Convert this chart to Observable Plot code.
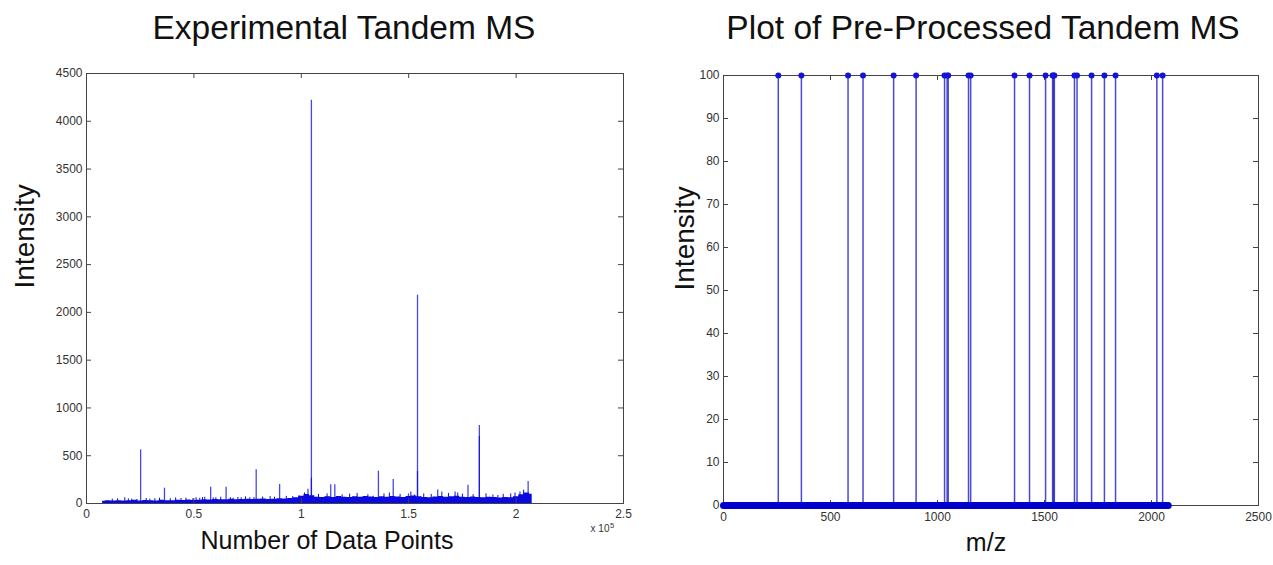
<!DOCTYPE html>
<html><head><meta charset="utf-8">
<script src="https://cdn.jsdelivr.net/npm/d3@7"></script>
<script src="https://cdn.jsdelivr.net/npm/@observablehq/plot@0.6"></script>
<style>
body{margin:0;background:#fff;width:1273px;height:565px;position:relative;overflow:hidden;font-family:"Liberation Sans",Arial,sans-serif;}
.abs{position:absolute;}
.title{position:absolute;top:10px;font-size:33.5px;line-height:36px;color:#111;white-space:nowrap;transform:translateX(-50%);}
</style></head><body>
<div class="title" style="left:344px">Experimental Tandem MS</div>
<div class="title" style="left:983px">Plot of Pre-Processed Tandem MS</div>
<div id="left" class="abs" style="left:0;top:55px"></div>
<div id="right" class="abs" style="left:640px;top:55px"></div>
<script>
// ---------- Left chart data: raw spectrum ----------
const rawXTicks = [0, 50000, 100000, 150000, 200000, 250000];
const rawYTicks = [0, 500, 1000, 1500, 2000, 2500, 3000, 3500, 4000, 4500];
// noise floor envelope, sampled every 2500 data points starting at 7500
const noiseStart = 7500, noiseStep = 2500;
const noiseLevel = [24,28,26,30,26,29,33,27,31,29,26,35,30,28,33,31,36,32,35,39,36,42,38,40,44,39,42,45,41,44,48,42,45,50,48,52,60,75,95,82,65,62,70,64,72,66,62,70,65,72,68,62,70,66,74,68,64,72,78,70,64,60,68,72,66,70,75,66,62,68,64,60,66,62,58,64,60,70,92,110,96];
// peaks (data-point index, intensity)
const peakPos = [17800,21000,25200,31800,36300,46300,49500,52700,55000,57800,60200,65000,68300,72000,76000,79000,89900,103100,104700,104700,110900,113700,115600,128100,133500,135900,142800,149900,152700,154100,154100,163500,165400,171600,172800,177600,182900,182900,189200,191500,201800,205600];
const peakInt = [59,45,561,50,160,55,50,55,65,171,60,170,55,60,60,352,199,150,4220,264,70,195,195,60,75,338,251,100,90,2180,334,140,120,120,110,190,816,701,90,85,120,229];
// small noise spikes
const minorPos = [12000,14500,19500,23500,27800,29500,34000,39000,41500,44000,51000,54000,59000,62500,67000,70500,74000,78000,82000,85500,87500,93000,96000,99000,101500,108000,112000,119000,122500,126000,131000,138500,141000,146000,151000,157000,160500,168500,175000,180000,186000,194000,197500,199500,203500];
const minorInt = [45,50,48,42,52,46,55,50,58,52,60,62,58,66,60,64,70,62,68,72,66,75,72,80,110,95,100,90,98,105,92,100,110,95,120,100,95,105,98,92,102,96,100,110,140];

// ---------- Right chart data: pre-processed ----------
const mzXTicks = [0, 500, 1000, 1500, 2000, 2500];
const mzYTicks = [0, 10, 20, 30, 40, 50, 60, 70, 80, 90, 100];
const mzPeaks = [256,364,582,652,795,900,1033,1045,1050,1145,1155,1360,1430,1505,1538,1542,1546,1640,1652,1720,1780,1832,2025,2052];
const mzIntensity = [100,100,100,100,100,100,100,100,100,100,100,100,100,100,100,100,100,100,100,100,100,100,100,100];
const mzZeroRange = [0, 2078];

const BLUE = "#0a0ae0";
const FONT = "'Liberation Sans', Arial, sans-serif";
const plain = d => String(d);

function boxTicks(xTicks, yTicks, W, H) {
  const tl = 5;
  return [
    Plot.tickY(yTicks, {y: d => d, insetRight: W - tl, stroke: "#444"}),
    Plot.tickY(yTicks, {y: d => d, insetLeft: W - tl, stroke: "#444"}),
    Plot.tickX(xTicks, {x: d => d, insetTop: H - tl, stroke: "#444"}),
    Plot.tickX(xTicks, {x: d => d, insetBottom: H - tl, stroke: "#444"})
  ];
}

// Left
{
  const width = 640, height = 510, mL = 86, mR = 17, mT = 18, mB = 62;
  const W = width - mL - mR, H = height - mT - mB;
  const noise = noiseLevel.map((v, i) => ({x: noiseStart + i * noiseStep, y: v}));
  const peaks = peakPos.map((p, i) => ({x: p, y: peakInt[i]}));
  const minor = minorPos.map((p, i) => ({x: p, y: minorInt[i]}));
  const chart = Plot.plot({
    width, height, marginLeft: mL, marginRight: mR, marginTop: mT, marginBottom: mB,
    style: {fontFamily: FONT, fontSize: "12px", color: "#333", background: "#fff"},
    x: {domain: [0, 250000], ticks: rawXTicks},
    y: {domain: [0, 4500], ticks: rawYTicks},
    marks: [
      Plot.areaY(noise, {x: "x", y: "y", curve: "step", fill: BLUE}),
      Plot.ruleX(minor, {x: "x", y1: 0, y2: "y", stroke: BLUE, strokeWidth: 1}),
      Plot.ruleX(peaks, {x: "x", y1: 0, y2: "y", stroke: BLUE, strokeWidth: 1.3, strokeOpacity: 0.75}),
      ...boxTicks(rawXTicks, rawYTicks, W, H),
      Plot.frame({stroke: "#444"}),
      Plot.axisY({ticks: rawYTicks, tickSize: 0, tickPadding: 4, label: null, tickFormat: plain, fill: "#333"}),
      Plot.axisX({ticks: rawXTicks, tickSize: 0, tickPadding: 6, label: null, tickFormat: d => String(d / 1e5), fill: "#333"}),
      Plot.text(["Intensity"], {frameAnchor: "left", rotate: -90, dx: -61, fontSize: 28, fill: "#111"}),
      Plot.text(["Number of Data Points"], {frameAnchor: "bottom", dy: 45, dx: -28, fontSize: 25, fill: "#111"}),
      Plot.text(["x 10"], {frameAnchor: "bottom-right", textAnchor: "end", dy: 28, dx: -14, fontSize: 10, fill: "#333"}),
      Plot.text(["5"], {frameAnchor: "bottom-right", textAnchor: "start", dy: 24, dx: -13.5, fontSize: 7.5, fill: "#333"})
    ]
  });
  document.getElementById("left").append(chart);
}

// Right
{
  const width = 633, height = 510, mL = 83, mR = 15, mT = 20, mB = 60;
  const W = width - mL - mR, H = height - mT - mB;
  const stems = mzPeaks.map((m, i) => ({mz: m, v: mzIntensity[i]}));
  const zero = mzZeroRange.map(m => ({mz: m, v: 0}));
  const chart = Plot.plot({
    width, height, marginLeft: mL, marginRight: mR, marginTop: mT, marginBottom: mB,
    style: {fontFamily: FONT, fontSize: "12px", color: "#333", background: "#fff"},
    x: {domain: [0, 2500], ticks: mzXTicks},
    y: {domain: [0, 100], ticks: mzYTicks},
    marks: [
      Plot.ruleX(stems, {x: "mz", y1: 0, y2: "v", stroke: "#2a2ac8", strokeWidth: 1.5, strokeOpacity: 0.85}),
      ...boxTicks(mzXTicks, mzYTicks, W, H),
      Plot.frame({stroke: "#444"}),
      Plot.dot(stems, {x: "mz", y: "v", r: 3, fill: "#1414d8", stroke: "none"}),
      Plot.line(zero, {x: "mz", y: "v", stroke: "#0000cc", strokeWidth: 7, strokeLinecap: "round"}),
      Plot.axisY({ticks: mzYTicks, tickSize: 0, tickPadding: 4, label: null, tickFormat: plain, fill: "#333"}),
      Plot.axisX({ticks: mzXTicks, tickSize: 0, tickPadding: 7, label: null, tickFormat: plain, fill: "#333"}),
      Plot.text(["Intensity"], {frameAnchor: "left", rotate: -90, dx: -38, fontSize: 28, fill: "#111"}),
      Plot.text(["m/z"], {frameAnchor: "bottom", dy: 45, dx: -5, fontSize: 25, fill: "#111"})
    ]
  });
  document.getElementById("right").append(chart);
}
</script>
</body></html>
